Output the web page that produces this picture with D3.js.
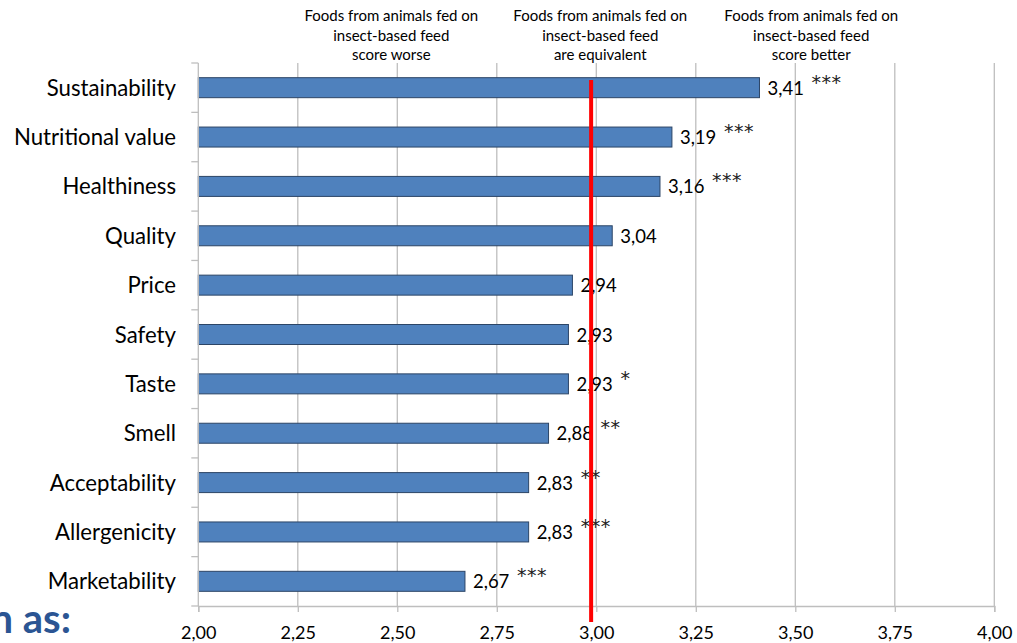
<!DOCTYPE html>
<html>
<head>
<meta charset="utf-8">
<script src="https://cdn.jsdelivr.net/npm/d3@7"></script>
<style>
  html, body { margin: 0; padding: 0; background: #ffffff; }
  svg { display: block; }
</style>
</head>
<body>
<svg id="chart" width="1017" height="643"></svg>
<script>
// ---- data ----
const categories = ["Sustainability", "Nutritional value", "Healthiness", "Quality", "Price",
  "Safety", "Taste", "Smell", "Acceptability", "Allergenicity", "Marketability"];
const values = [3.41, 3.19, 3.16, 3.04, 2.94, 2.93, 2.93, 2.88, 2.83, 2.83, 2.67];
const significance = ["***", "***", "***", "", "", "", "*", "**", "**", "***", "***"];
const xTickValues = [2.00, 2.25, 2.50, 2.75, 3.00, 3.25, 3.50, 3.75, 4.00];
const headerTexts = [
  ["Foods from animals fed on", "insect-based feed", "score worse"],
  ["Foods from animals fed on", "insect-based feed", "are equivalent"],
  ["Foods from animals fed on", "insect-based feed", "score better"]
];
const headerAnchors = [2.485, 3.01, 3.54];
const referenceValue = 2.987;
const fragmentText = "n as:";

(function () {
// ---- layout ----
const svg = d3.select("#chart");
const pLeft = 198.3, pRight = 994.3, pTop = 63, pBottom = 606;
const font = "Lato, 'Open Sans', sans-serif";
const gridColor = "#BEBEBE";

const x = d3.scaleLinear().domain([2, 4]).range([pLeft, pRight]);
const y = d3.scaleBand().domain(categories).range([pTop, pBottom])
  .paddingInner(0.595).paddingOuter(0.2975);
const comma = v => d3.format(".2f")(v).replace(".", ",");

// gridlines
svg.append("g").selectAll("line").data(xTickValues.slice(1)).join("line")
  .attr("x1", d => x(d)).attr("x2", d => x(d))
  .attr("y1", pTop).attr("y2", pBottom)
  .attr("stroke", gridColor).attr("stroke-width", 1.3);

// bars
const rows = categories.map((c, i) => ({ c, v: values[i], s: significance[i] }));
svg.append("g").selectAll("rect").data(rows).join("rect")
  .attr("x", x(2)).attr("y", d => y(d.c))
  .attr("width", d => x(d.v) - x(2)).attr("height", y.bandwidth())
  .attr("fill", "#4F81BD").attr("stroke", "#2C4566").attr("stroke-width", 1);

// value labels
svg.append("g").selectAll("text").data(rows).join("text")
  .attr("x", d => x(d.v) + 8)
  .attr("y", d => y(d.c) + y.bandwidth() / 2 + 7)
  .attr("font-family", font).attr("font-size", 18.5).attr("fill", "#000")
  .text(d => comma(d.v));

// significance stars
svg.append("g").selectAll("text").data(rows.filter(d => d.s)).join("text")
  .attr("x", d => x(d.v) + 52)
  .attr("y", d => y(d.c) + y.bandwidth() / 2 + 1)
  .attr("font-family", "'DejaVu Sans', sans-serif").attr("font-size", 19).attr("fill", "#222")
  .attr("letter-spacing", 0.5)
  .text(d => d.s);

// category labels
svg.append("g").selectAll("text").data(categories).join("text")
  .attr("x", 176).attr("y", d => y(d) + y.bandwidth() / 2 + 8)
  .attr("text-anchor", "end")
  .attr("font-family", font).attr("font-size", 22.2).attr("fill", "#000")
  .text(d => d);

// y axis line + ticks at band boundaries
svg.append("line").attr("x1", pLeft).attr("x2", pLeft).attr("y1", pTop).attr("y2", pBottom)
  .attr("stroke", gridColor).attr("stroke-width", 1.3);
const boundaries = d3.range(categories.length + 1).map(i => pTop + i * y.step());
svg.append("g").selectAll("line").data(boundaries).join("line")
  .attr("x1", pLeft - 7).attr("x2", pLeft).attr("y1", d => d).attr("y2", d => d)
  .attr("stroke", gridColor).attr("stroke-width", 1.3);

// x axis
const xAxis = d3.axisBottom(x).tickValues(xTickValues).tickFormat(comma)
  .tickSize(6).tickPadding(14);
const gx = svg.append("g").attr("transform", `translate(0,${pBottom})`).call(xAxis);
gx.select(".domain").attr("stroke", gridColor).attr("stroke-width", 1.3);
gx.selectAll(".tick line").attr("stroke", gridColor).attr("stroke-width", 1.3);
gx.selectAll(".tick text").attr("font-family", font).attr("font-size", 18).attr("fill", "#000");

// reference line
svg.append("line")
  .attr("x1", x(referenceValue)).attr("x2", x(referenceValue))
  .attr("y1", 80).attr("y2", 622)
  .attr("stroke", "#FF0000").attr("stroke-width", 4);

// header annotations
headerTexts.forEach((lines, i) => {
  const t = svg.append("text").attr("text-anchor", "middle")
    .attr("font-family", font).attr("font-size", 15).attr("fill", "#000");
  lines.forEach((ln, j) => {
    t.append("tspan").attr("x", x(headerAnchors[i])).attr("y", 21 + j * 19.5).text(ln);
  });
});

// cropped slide text fragment
svg.append("text").attr("x", 71).attr("y", 633).attr("text-anchor", "end")
  .attr("font-family", font).attr("font-weight", "bold").attr("font-size", 40)
  .attr("fill", "#2B5593").text(fragmentText);
})();
</script>
</body>
</html>
